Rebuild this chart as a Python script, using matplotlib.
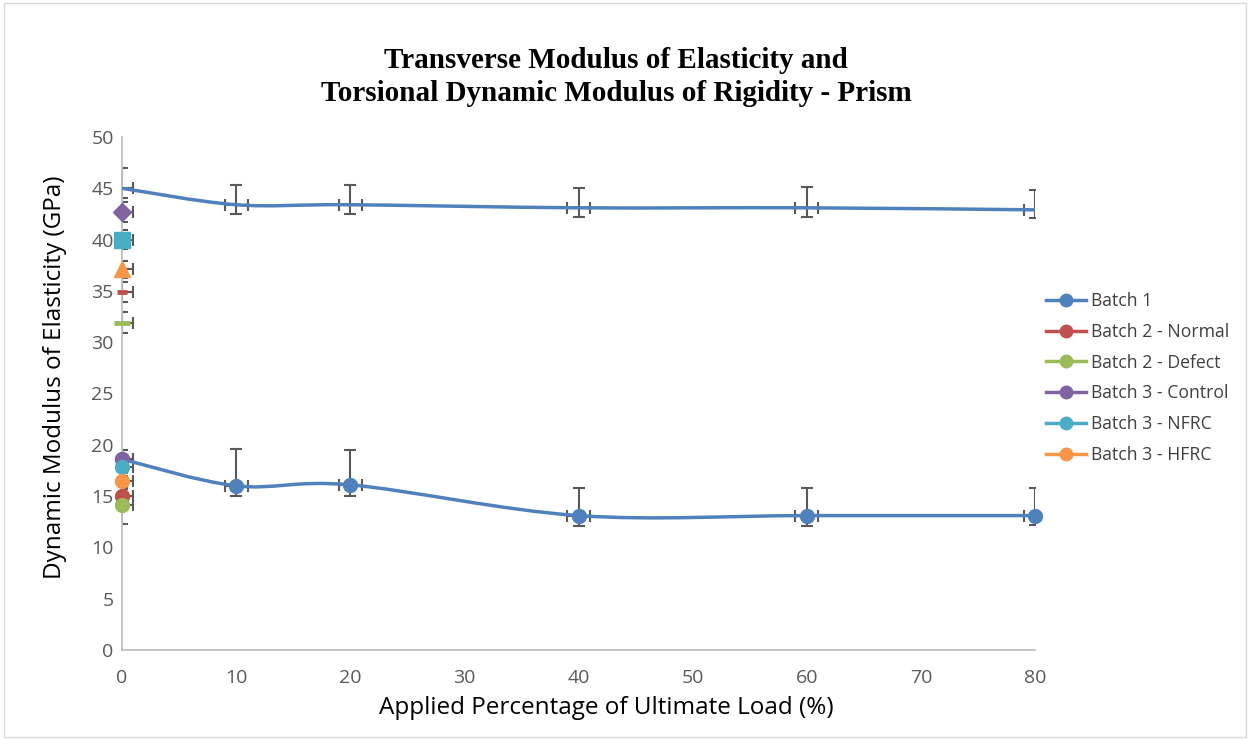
import matplotlib.pyplot as plt
from matplotlib.path import Path
from matplotlib.patches import PathPatch, Rectangle
from matplotlib.lines import Line2D

# =============================================================================
# DATA
# =============================================================================
load_pct = [0, 10, 20, 40, 60, 80]

# Batch 1 - transverse modulus (upper curve)
b1_trans = [45.0, 43.4, 43.4, 43.1, 43.1, 42.9]
b1_trans_up = [2.0, 1.9, 1.9, 1.9, 2.0, 1.9]
b1_trans_dn = [0.9, 0.9, 0.9, 0.9, 0.9, 0.8]

# Batch 1 - torsional modulus (lower curve)
b1_tors = [18.6, 16.0, 16.1, 13.1, 13.1, 13.1]
b1_tors_up = [0.9, 3.6, 3.4, 2.7, 2.7, 2.7]
b1_tors_dn = [0.9, 1.0, 1.1, 1.0, 1.0, 0.9]

x_err = 1.0

# single-point batches at 0 % load
batch_names = ["Batch 2 - Normal", "Batch 2 - Defect", "Batch 3 - Control",
               "Batch 3 - NFRC", "Batch 3 - HFRC"]
batch_trans = [34.9, 31.9, 42.7, 40.0, 37.1]
batch_trans_err = [1.0, 1.0, 1.0, 0.9, 0.8]
batch_tors = [15.0, 14.1, 18.6, 17.8, 16.5]
batch_tors_up = [0.8, 0.8, 0.9, 0.8, 0.8]
batch_tors_dn = [0.8, 1.8, 0.8, 0.8, 0.8]

colors = ["#4F81BD", "#C0504D", "#9BBB59", "#8064A2", "#4BACC6", "#F79646"]
trans_markers = ["_", "_", "D", "s", "^"]
trans_msizes = [7, 11, 9, 11, 12]

# =============================================================================
# PLOTTING
# =============================================================================
plt.rcParams['font.family'] = ['Open Sans', 'DejaVu Sans']

fig = plt.figure(figsize=(12.5, 7.4), dpi=100)
fig.patches.append(Rectangle((0.003, 0.004), 0.994, 0.992, transform=fig.transFigure,
                             fill=False, edgecolor='#D9D9D9', linewidth=1))
ax = fig.add_axes([122 / 1250, 1 - 650 / 740, 913 / 1250, 513 / 740])

err_color = '#595959'


def smooth_path(xs, ys):
    # Excel-like smoothed line: cubic Bezier through every point
    n = len(xs)
    verts = [(xs[0], ys[0])]
    codes = [Path.MOVETO]
    for i in range(n - 1):
        i0 = max(i - 1, 0)
        i3 = min(i + 2, n - 1)
        c1 = (xs[i] + (xs[i + 1] - xs[i0]) / 6, ys[i] + (ys[i + 1] - ys[i0]) / 6)
        c2 = (xs[i + 1] - (xs[i3] - xs[i]) / 6, ys[i + 1] - (ys[i3] - ys[i]) / 6)
        verts += [c1, c2, (xs[i + 1], ys[i + 1])]
        codes += [Path.CURVE4] * 3
    return Path(verts, codes)


def draw_err(x, y, yerr, marker, ms, color, mew=1.0):
    cont = ax.errorbar(x, y, yerr=yerr, xerr=x_err, fmt='none', ecolor=err_color,
                       elinewidth=1.5, capsize=4.5, capthick=1.5, zorder=2)
    ln, = ax.plot(x, y, linestyle='none', marker=marker, markersize=ms, color=color,
                  markeredgecolor=color, markeredgewidth=mew, zorder=4)
    ln.set_clip_on(False)
    return cont


# Batch 1 curves
for vals, up, dn, mk in [(b1_trans, b1_trans_up, b1_trans_dn, None),
                         (b1_tors, b1_tors_up, b1_tors_dn, 'o')]:
    ax.errorbar(load_pct, vals, yerr=[dn, up], xerr=x_err, fmt='none', ecolor=err_color,
                elinewidth=1.5, capsize=4.5, capthick=1.5, zorder=2)
    ax.add_patch(PathPatch(smooth_path(load_pct, vals), facecolor='none',
                           edgecolor=colors[0], linewidth=2.5, zorder=3))
    if mk:
        ln, = ax.plot(load_pct, vals, linestyle='none', marker='o', markersize=10,
                      color=colors[0], zorder=4)
        ln.set_clip_on(False)

# Other batches (single points at 0 %)
for k in range(len(batch_names)):
    mew = 3.5 if trans_markers[k] == '_' else 1.0
    draw_err([0], [batch_trans[k]], [batch_trans_err[k]], trans_markers[k],
             trans_msizes[k], colors[k + 1], mew)
    draw_err([0], [batch_tors[k]], [[batch_tors_dn[k]], [batch_tors_up[k]]], 'o',
             10, colors[k + 1])

# Axes styling
ax.set_xlim(0, 80)
ax.set_ylim(0, 50)
ax.set_xticks(range(0, 81, 10))
ax.set_yticks(range(0, 51, 5))
for s in ['top', 'right']:
    ax.spines[s].set_visible(False)
for s in ['left', 'bottom']:
    ax.spines[s].set_color('#BFBFBF')
    ax.spines[s].set_linewidth(1.3)
ax.tick_params(length=0, labelsize=14, labelcolor='#595959')
ax.tick_params(axis='y', pad=6)
ax.tick_params(axis='x', pad=14)

fig.text(0.493, 1 - 77 / 740,
         "Transverse Modulus of Elasticity and\nTorsional Dynamic Modulus of Rigidity - Prism",
         ha='center', va='center', fontsize=21, fontweight='bold',
         family=['Liberation Serif', 'DejaVu Serif'], linespacing=1.28)
fig.text(606 / 1250, 1 - 708 / 740, "Applied Percentage of Ultimate Load (%)",
         ha='center', va='center', fontsize=17.5)
fig.text(55 / 1250, 1 - 377 / 740, "Dynamic Modulus of Elasticity (GPa)",
         ha='center', va='center', fontsize=17.5, rotation=90)

# Legend
names = ["Batch 1"] + batch_names
handles = [Line2D([], [], color=c, linewidth=2.5, marker='o', markersize=9)
           for c in colors]
fig.legend(handles, names, loc='center left', bbox_to_anchor=(1030 / 1250, 1 - 378 / 740),
           frameon=False, fontsize=12.7, handlelength=2.3, handletextpad=0.25,
           labelspacing=0.72, labelcolor='#404040')

plt.savefig('out.png', dpi=100)
